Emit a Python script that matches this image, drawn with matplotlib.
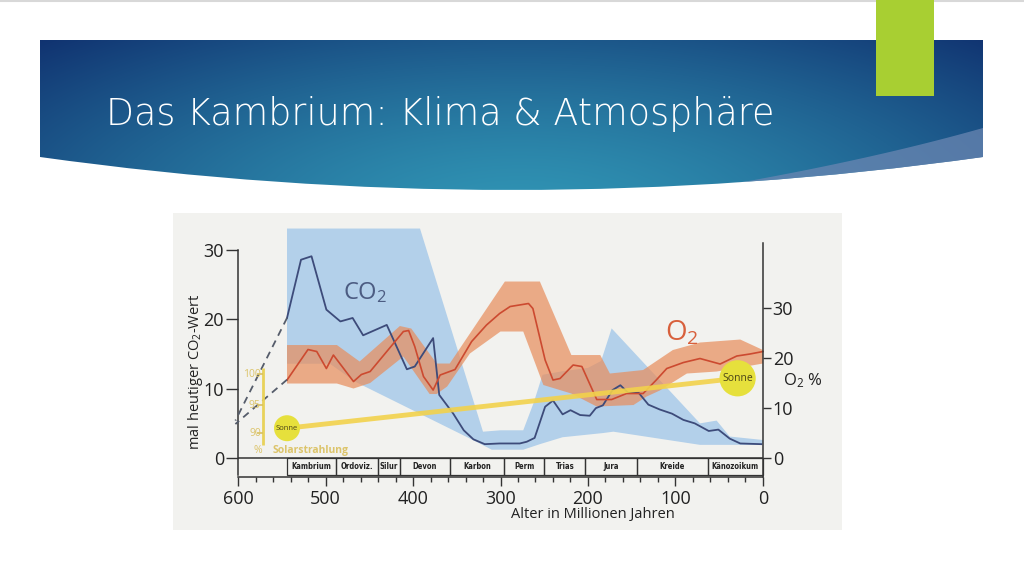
import numpy as np
import matplotlib
matplotlib.use("Agg")
from matplotlib import pyplot as plt
from matplotlib.path import Path
from matplotlib.patches import PathPatch, Rectangle, Polygon

plt.rcParams['font.family'] = ['Open Sans', 'DejaVu Sans']
plt.rcParams['mathtext.default'] = 'regular'

# --- Daten (Alter in Mio. Jahren) ---
age_ticks = [600, 500, 400, 300, 200, 100, 0]
co2_ticks = [0, 10, 20, 30]
o2_ticks = [0, 10, 20, 30]

periods = ['Kambrium', 'Ordoviz.', 'Silur', 'Devon', 'Karbon', 'Perm',
           'Trias', 'Jura', 'Kreide', 'Känozoikum']
period_bounds = [544, 488, 440, 415, 358, 296, 250, 203, 144, 63, 0]

# CO2 (mal heutiger Wert)
co2_age = [544, 528, 516, 499, 483, 469, 457, 430, 407, 398, 377, 370, 354, 342,
           331, 318, 301, 278, 270, 261, 249, 240, 229, 220, 209, 198, 191, 183,
           172, 163, 154, 142, 131, 118, 104, 91, 78, 62, 51, 38, 26, 2]
co2_val = [20.2, 28.6, 29.1, 21.4, 19.7, 20.2, 17.7, 19.2, 12.8, 13.2, 17.3, 9.1,
           6.4, 4.0, 2.7, 2.0, 2.1, 2.1, 2.35, 2.9, 7.4, 8.3, 6.3, 6.9, 6.2, 6.1,
           7.2, 7.6, 9.8, 10.5, 9.4, 9.4, 7.7, 7.0, 6.4, 5.5, 5.0, 3.9, 4.1, 2.8,
           2.1, 2.0]
co2_hi_age = [544, 392, 320, 300, 274, 262, 252, 230, 200, 185, 173, 72, 53, 38, 0]
co2_hi = [33.1, 33.1, 3.8, 4.0, 4.0, 8.0, 12.0, 12.5, 13.0, 14.0, 18.7, 5.0, 5.4, 3.1, 2.6]
co2_lo_age = [544, 495, 466, 330, 310, 274, 255, 229, 183, 171, 72, 0]
co2_lo = [13.6, 13.6, 11.0, 2.5, 1.2, 1.2, 2.0, 3.0, 3.6, 3.8, 1.9, 1.9]

# O2 (%)
o2_age = [544, 520, 510, 499, 491, 468, 459, 449, 411, 405, 398, 388, 377, 369,
          352, 333, 316, 301, 289, 268, 263, 249, 240, 232, 217, 207, 190, 173,
          156, 137, 122, 110, 91, 72, 49, 30, 15, 0]
o2_val = [15.6, 21.7, 21.3, 17.9, 20.6, 15.3, 16.7, 17.3, 25.3, 25.5, 22.3, 16.3,
          13.6, 16.6, 17.7, 23.3, 26.6, 28.9, 30.3, 30.9, 29.9, 19.6, 15.6, 15.9,
          18.6, 18.3, 11.7, 11.7, 12.9, 12.9, 15.6, 17.9, 19.1, 19.9, 18.8, 20.4,
          20.8, 21.3]
o2_hi_age = [544, 487, 461, 415, 402, 373, 358, 295, 255, 219, 186, 175, 137, 103, 72, 26, 0]
o2_hi = [22.6, 22.6, 19.3, 26.4, 25.9, 18.9, 18.9, 35.3, 35.3, 20.6, 20.6, 16.9,
         17.6, 21.6, 23.1, 23.7, 21.6]
o2_lo_age = [544, 487, 468, 449, 411, 381, 373, 361, 335, 300, 274, 251, 219, 190,
             148, 133, 118, 87, 53, 0]
o2_lo = [14.9, 14.9, 13.9, 15.0, 20.3, 12.8, 12.8, 14.3, 20.9, 25.3, 25.3, 14.6,
         12.9, 10.3, 10.6, 12.3, 13.5, 16.9, 17.3, 18.9]

# Extrapolation vor dem Kambrium (gestrichelt)
dash_age = [544, 603]
dash_co2 = [20.2, 5.4]
dash_o2 = [11.3, 4.9]

# Sonnenstrahlung
sun_age = [544, 29]
sun_level = [4.3, 11.5]
sol_scale_age = 571
sol_scale_pct = ['100', '95', '90']
sol_scale_y = [12.1, 7.6, 3.6]

# --- Folie ---
fig = plt.figure(figsize=(10.24, 5.76), dpi=100)
fig.patch.set_facecolor('white')
bg = fig.add_axes([0, 0, 1, 1])
bg.axis('off')

verts = [(40, 40), (983, 40), (983, 157), (512, 223), (40, 157), (40, 40)]
codes = [Path.MOVETO, Path.LINETO, Path.LINETO, Path.CURVE3, Path.CURVE3, Path.CLOSEPOLY]
banner = PathPatch(Path(verts, codes), facecolor='none', edgecolor='none')
bg.add_patch(banner)

gx, gy = np.meshgrid(np.linspace(40, 983, 400), np.linspace(40, 195, 80))
d = np.clip(np.sqrt(((gx - 520) / 680) ** 2 + ((gy - 215) / 250) ** 2), 0, 1) ** 1.4
teal = np.array([48, 148, 180]) / 255
navy = np.array([16, 50, 112]) / 255
grad = teal * (1 - d[..., None]) + navy * d[..., None]
img = bg.imshow(grad, extent=(40, 983, 195, 40), aspect='auto', interpolation='bilinear', zorder=1)
img.set_clip_path(banner)

t = np.linspace(0, 1, 40)
cx = (1 - t) ** 2 * 600 + 2 * (1 - t) * t * 830 + t ** 2 * 990
cy = (1 - t) ** 2 * 205 + 2 * (1 - t) * t * 172 + t ** 2 * 126
sl = Polygon(np.column_stack([np.r_[cx, 990, 600], np.r_[cy, 240, 240]]),
             facecolor='#6a86b2', alpha=0.75, edgecolor='none', zorder=2)
bg.add_patch(sl)
sl.set_clip_path(banner)

bg.add_patch(Rectangle((876, 0), 58, 96, facecolor='#a8cf32', edgecolor='none', zorder=3))
bg.axhline(0.5, color='#d8d8d8', lw=1.5)
bg.text(106, 114, 'Das Kambrium: Klima & Atmosphäre', color='white', fontsize=26.3,
        va='center', ha='left', family=['DejaVu Sans'], fontweight='light', zorder=4)
bg.set_xlim(0, 1024)
bg.set_ylim(576, 0)

# --- Diagramm ---
k = 6.933 / 5.0
ax = fig.add_axes([173 / 1024, 1 - 530 / 576, 669 / 1024, 317 / 576])
ax.set_facecolor('#f2f2ef')
ax.set_xlim(674.3, -90.3)
ax.set_ylim(-10.38, 35.34)
ax2 = ax.twinx()
ax2.set_ylim(-10.38 * k, 35.34 * k)

sc = '#333333'
for s in ['top', 'right']:
    ax.spines[s].set_visible(False)
for s in ['top', 'left', 'bottom']:
    ax2.spines[s].set_visible(False)
ax.spines['left'].set_position(('data', 600))
ax.spines['left'].set_bounds(-2.45, 30)
ax.spines['bottom'].set_position(('data', -2.74))
ax.spines['bottom'].set_bounds(0, 600)
ax2.spines['right'].set_position(('data', 0))
ax2.spines['right'].set_bounds(-3.8, 43)
for sp in [ax.spines['left'], ax.spines['bottom'], ax2.spines['right']]:
    sp.set_color(sc)
    sp.set_linewidth(1.1)

ax.set_xticks(age_ticks)
ax.set_xticks(np.arange(0, 601, 20), minor=True)
ax.tick_params(axis='x', which='major', length=6.5, width=1, color=sc, pad=2.5,
               labelsize=13, labelcolor='#222222')
ax.tick_params(axis='x', which='minor', length=3.6, width=1, color=sc)
ax.set_yticks(co2_ticks)
ax.tick_params(axis='y', length=8.5, width=1, color=sc, pad=1.5, labelsize=13, labelcolor='#222222')
ax2.set_yticks(o2_ticks)
ax2.tick_params(axis='y', length=6, width=1, color=sc, pad=1, labelsize=13, labelcolor='#222222')

# Bänder
ax.fill(co2_hi_age + co2_lo_age[::-1], co2_hi + co2_lo[::-1], color='#b3d0ea', lw=0, zorder=1)
ax.fill(o2_hi_age + o2_lo_age[::-1], o2_hi + o2_lo[::-1], color='#e88c5a', alpha=0.7,
        lw=0, zorder=2, transform=ax2.transData)

# Kurven
ax.plot(co2_age, co2_val, color='#3d4b7a', lw=1.3, zorder=3)
ax.plot(o2_age, o2_val, color='#cc4a30', lw=1.2, zorder=3, transform=ax2.transData)
ax.plot(dash_age, dash_co2, color='#555c6a', lw=1.3, ls=(0, (4, 3)), zorder=3)
ax.plot(dash_age, dash_o2, color='#555c6a', lw=1.3, ls=(0, (4, 3)), zorder=3)

# Sonnenstrahlung
ax.plot(sun_age, sun_level, color='#f2d24c', lw=3.5, alpha=0.9, zorder=4, solid_capstyle='butt')
ax.scatter(sun_age, sun_level, s=[350, 680], color='#e6e03c', zorder=5, lw=0)
ax.text(sun_age[0], sun_level[0], 'Sonne', fontsize=5.5, color='#4a4418', ha='center', va='center', zorder=6)
ax.text(sun_age[1], sun_level[1], 'Sonne', fontsize=7.5, color='#4a4418', ha='center', va='center', zorder=6)
ax.vlines(sol_scale_age, 1.9, 13.0, color='#e8d25a', lw=2, zorder=4)
ax.plot([sol_scale_age] * 3, sol_scale_y, ls='none', marker=0, ms=4, mew=1.2, color='#d8c060', zorder=4)
for lab, y in zip(sol_scale_pct, sol_scale_y):
    ax.text(sol_scale_age + 3, y, lab, fontsize=7.5, color='#dcc46a', ha='right', va='center', zorder=4)
ax.text(sol_scale_age + 6, 1.1, '%', fontsize=7.5, color='#dcc46a', ha='center', va='center', zorder=4)
ax.text(sol_scale_age - 11, 1.1, 'Solarstrahlung', fontsize=7.5, color='#dcc46a',
        ha='left', va='center', fontweight='bold', zorder=4)

# Erdzeitalter
ax.hlines(0, age_ticks[0], age_ticks[-1], color=sc, lw=1.1, zorder=3)
b = np.array(period_bounds)
ax.bar((b[:-1] + b[1:]) / 2, -2.45, width=b[:-1] - b[1:], bottom=0, fill=False,
       edgecolor=sc, lw=0.9, zorder=3)
for name, c in zip(periods, (b[:-1] + b[1:]) / 2):
    ax.text(c, -1.22, name, fontsize=5.5, fontweight='bold', color='#222222',
            family=['DejaVu Sans'], fontstretch='condensed',
            ha='center', va='center', zorder=4)

# Beschriftungen
ax.text(455, 23.8, 'CO$_2$', fontsize=17, color='#4c5c82', ha='center', va='center')
ax.text(93, 18.0, 'O$_2$', fontsize=20, color='#d8603c', ha='center', va='center')
ax.text(-46, 11.1, 'O$_2$ %', fontsize=12, color='#222222', ha='center', va='center')
ax.text(649, 12.5, 'mal heutiger CO$_2$-Wert', fontsize=10.5, color='#222222',
        rotation=90, ha='center', va='center')
ax.text(194, -8.1, 'Alter in Millionen Jahren', fontsize=10.5, color='#222222', ha='center', va='center')

fig.savefig('out.png', dpi=100)
